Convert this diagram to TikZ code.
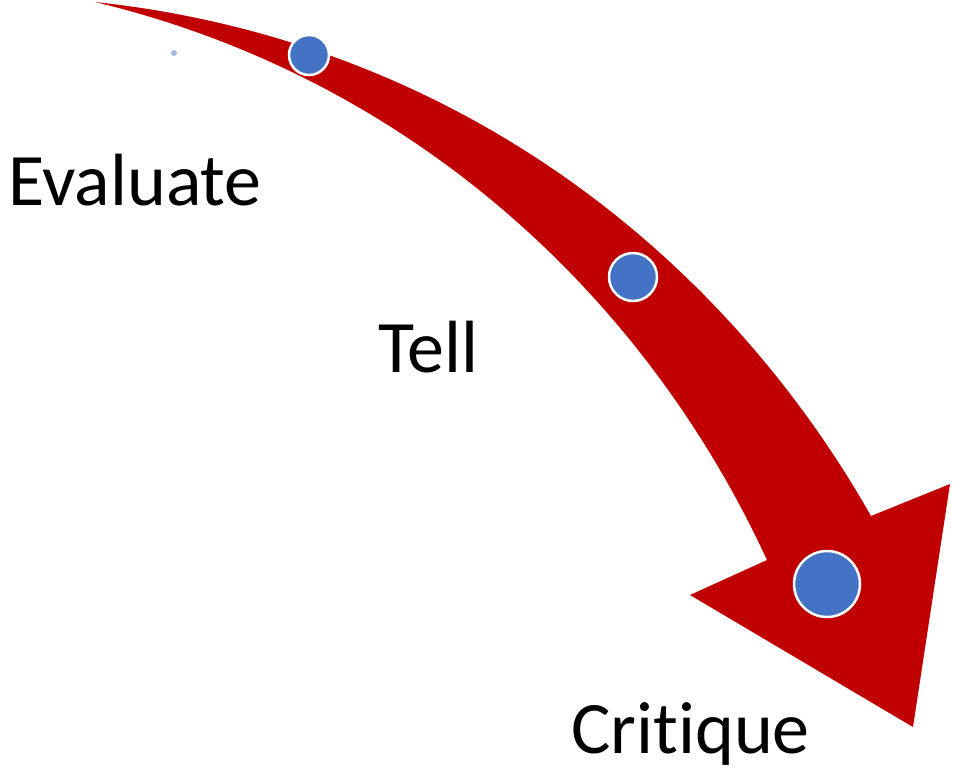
\documentclass[tikz,border=0pt]{standalone}
\usepackage{fontspec}
\setmainfont{Carlito}[Ligatures=NoCommon]
\definecolor{arrowred}{HTML}{C00000}
\definecolor{dotblue}{HTML}{4472C4}
\definecolor{faintblue}{HTML}{AAB9DD}
\begin{document}
\begin{tikzpicture}[x=1pt,y=-1pt,
  stage/.style={circle,fill=dotblue,draw=white,line width=2.5pt,inner sep=0pt},
  label/.style={anchor=base west,inner sep=0pt,font=\fontsize{74}{80}\selectfont}]
\useasboundingbox (0,0) rectangle (953,772);
% big curved arrow
\fill[arrowred] (95,2)
  .. controls (450,40) and (720,250) .. (871,516)
  -- (950,484) -- (913,727) -- (690,595) -- (767,560)
  .. controls (640,285) and (400,75) .. (95,2) -- cycle;
% stage markers
\node[stage,minimum size=40pt] (s1) at (309,55) {};
\node[stage,minimum size=48pt] (s2) at (633,277) {};
\node[stage,minimum size=66pt] (s3) at (827,584) {};
\node[circle,fill=faintblue,inner sep=0pt,minimum size=6pt] (d) at (174,53) {};
% labels
\node[label] (evaluate) at (8,205) {Evaluate};
\node[label] (tell) at (378,372) {Tell};
\node[label] (critique) at (571,753) {Critique};
\end{tikzpicture}
\end{document}
